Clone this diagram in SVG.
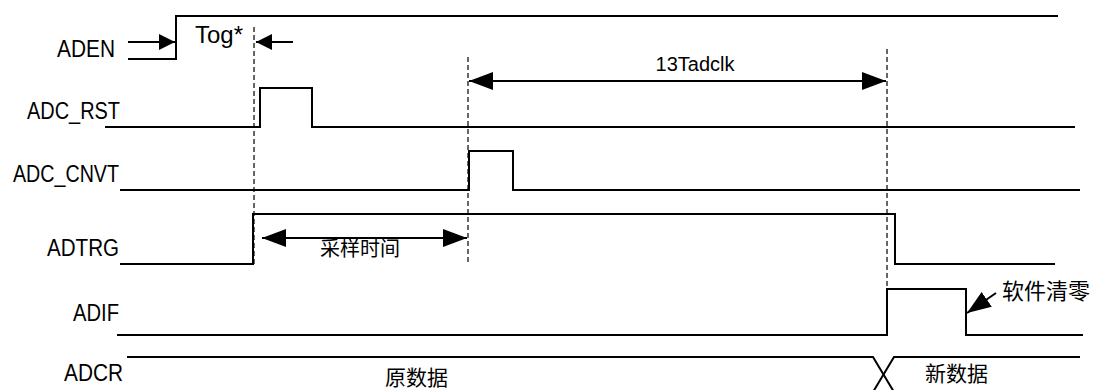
<svg xmlns="http://www.w3.org/2000/svg" width="1097" height="390" viewBox="0 0 1097 390">
<style>
.sig{fill:none;stroke:#000;stroke-width:2}
.dash{fill:none;stroke:#000;stroke-width:1.2;stroke-dasharray:5,3}
.dim{fill:none;stroke:#000;stroke-width:2}
.lbl{font-family:"Liberation Sans",Arial,sans-serif;font-size:23px;fill:#000}
.en{font-family:"Liberation Sans",Arial,sans-serif;font-size:20px;fill:#000}
.cn{font-family:"Liberation Sans","Noto Sans CJK SC",sans-serif;font-size:20px;fill:#000}
</style>
<defs>
<marker id="ah" markerUnits="userSpaceOnUse" markerWidth="24" markerHeight="18" refX="24" refY="9" orient="auto">
<path d="M0,0 L24,9 L0,18 Z" fill="#000"/>
</marker>
<marker id="ahs" markerUnits="userSpaceOnUse" markerWidth="16" markerHeight="16" refX="16" refY="8" orient="auto">
<path d="M0,0 L16,8 L0,16 Z" fill="#000"/>
</marker>
</defs>
<rect width="1097" height="390" fill="#fff"/>
<g id="ADEN">
<text class="lbl" x="57" y="57" textLength="58" lengthAdjust="spacingAndGlyphs">ADEN</text>
<polyline class="sig" points="128,59 176,59 176,16 1058,16"/>
</g>
<g id="ADC_RST">
<text class="lbl" x="27" y="119" textLength="93" lengthAdjust="spacingAndGlyphs">ADC_RST</text>
<polyline class="sig" points="105,127 260,127 260,88 312,88 312,127 1075,127"/>
</g>
<g id="ADC_CNVT">
<text class="lbl" x="13" y="182" textLength="106" lengthAdjust="spacingAndGlyphs">ADC_CNVT</text>
<polyline class="sig" points="120,190 469,190 469,151 513,151 513,190 1080,190"/>
</g>
<g id="ADTRG">
<text class="lbl" x="47" y="256" textLength="72" lengthAdjust="spacingAndGlyphs">ADTRG</text>
<polyline class="sig" points="120,264 253,264 253,214 895,214 895,264 1055,264"/>
</g>
<g id="ADIF">
<text class="lbl" x="73" y="321" textLength="46" lengthAdjust="spacingAndGlyphs">ADIF</text>
<polyline class="sig" points="117,335 887,335 887,289 966,289 966,335 1083,335"/>
</g>
<g id="ADCR">
<text class="lbl" x="64" y="381" textLength="59" lengthAdjust="spacingAndGlyphs">ADCR</text>
<polyline class="sig" points="127,357 873,357 894,392"/>
<polyline class="sig" points="873,392 894,357 1080,357"/>
<text class="cn" x="385" y="385" style="font-size:21px">原数据</text>
<text class="cn" x="925" y="381" style="font-size:21px">新数据</text>
</g>
<g id="connectors">
<line class="dash" x1="254" y1="27" x2="254" y2="264"/>
<line class="dash" x1="468" y1="57" x2="468" y2="262"/>
<line class="dash" x1="887" y1="49" x2="887" y2="289"/>
<line class="dim" x1="128" y1="42" x2="175" y2="42" marker-end="url(#ahs)"/>
<line class="dim" x1="293" y1="42" x2="256" y2="42" marker-end="url(#ahs)"/>
<text class="lbl" x="195" y="43" style="font-size:24px">Tog*</text>
<line class="dim" x1="678" y1="81" x2="469" y2="81" marker-end="url(#ah)"/>
<line class="dim" x1="678" y1="81" x2="886" y2="81" marker-end="url(#ah)"/>
<text class="en" x="695" y="71" text-anchor="middle">13Tadclk</text>
<line class="dim" x1="365" y1="238" x2="262" y2="238" marker-end="url(#ah)"/>
<line class="dim" x1="365" y1="238" x2="467" y2="238" marker-end="url(#ah)"/>
<text class="cn" x="360" y="256" text-anchor="middle">采样时间</text>
<line class="dim" x1="996" y1="293" x2="967" y2="313" marker-end="url(#ah)"/>
<text class="cn" x="1002" y="299" style="font-size:22px">软件清零</text>
</g>
</svg>
